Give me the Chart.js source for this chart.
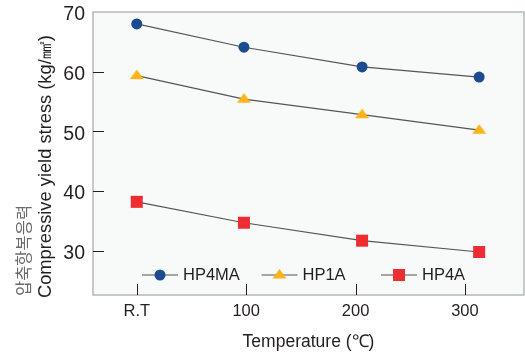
<!DOCTYPE html>
<html>
<head>
<meta charset="utf-8">
<script src="https://cdn.jsdelivr.net/npm/chart.js@4/dist/chart.umd.min.js"></script>
<style>
  html, body { margin: 0; padding: 0; background: #fff; }
  #wrap { width: 525px; height: 354px; }
</style>
</head>
<body>
<div id="wrap"><canvas id="myChart" width="525" height="354"></canvas></div>
<script>
// Data
const tempLabels = ['R.T', '100', '200', '300'];
const tickTemps = [0, 100, 200, 300];
const testTemps = [0, 98, 206, 313];
const hp4ma = [68.0, 64.1, 60.8, 59.1];
const hp1a = [59.35, 55.4, 52.8, 50.2];
const hp4a = [38.2, 34.7, 31.7, 29.8];
const yTicks = [30, 40, 50, 60, 70];
const seriesNames = ['HP4MA', 'HP1A', 'HP4A'];

const textColor = '#231f20';
const lineColor = '#555555';
const font = "'Liberation Sans', Arial, sans-serif";

// flattened triangle marker like the original
function makeTriangle(color) {
  const c = document.createElement('canvas');
  c.width = 15; c.height = 13;
  const g = c.getContext('2d');
  g.fillStyle = color;
  g.beginPath();
  g.moveTo(7.5, 0.5);
  g.lineTo(14.5, 10);
  g.lineTo(0.5, 10);
  g.closePath();
  g.fill();
  return c;
}
const triangle = makeTriangle('#fbb416');

function toPoints(ys) {
  return testTemps.map((x, i) => ({ x: x, y: ys[i] }));
}

const datasets = [
  { label: seriesNames[0], data: toPoints(hp4ma), pointStyle: 'circle', pointRadius: 5.5,
    pointBackgroundColor: '#1c4b8f', pointBorderColor: '#1c4b8f', pointBorderWidth: 0 },
  { label: seriesNames[1], data: toPoints(hp1a), pointStyle: triangle, pointRadius: 7,
    pointBackgroundColor: '#fbb416', pointBorderColor: '#fbb416', pointBorderWidth: 0 },
  { label: seriesNames[2], data: toPoints(hp4a), pointStyle: 'rect', pointRadius: 8.5,
    pointBackgroundColor: '#ee2d33', pointBorderColor: '#ee2d33', pointBorderWidth: 0 }
].map(d => Object.assign(d, { borderColor: lineColor, borderWidth: 1.2, tension: 0, fill: false }));

function drawMarker(ctx, ds, x, y) {
  ctx.fillStyle = ds.pointBackgroundColor;
  if (ds.pointStyle === 'circle') {
    ctx.beginPath();
    ctx.arc(x, y, ds.pointRadius, 0, Math.PI * 2);
    ctx.fill();
  } else if (ds.pointStyle === 'rect') {
    const s = ds.pointRadius * Math.SQRT1_2;
    ctx.fillRect(x - s, y - s, 2 * s, 2 * s);
  } else {
    ctx.drawImage(ds.pointStyle, x - ds.pointStyle.width / 2, y - ds.pointStyle.height / 2);
  }
}

// plot background, frame, inward tick marks, legend and y titles
const framePlugin = {
  id: 'framePlugin',
  beforeDraw(chart) {
    const a = chart.chartArea, ctx = chart.ctx;
    ctx.save();
    ctx.fillStyle = '#f8f9f9';
    ctx.fillRect(a.left, a.top, a.right - a.left, a.bottom - a.top);
    ctx.restore();
  },
  afterDatasetsDraw(chart) {
    const a = chart.chartArea, ctx = chart.ctx;
    const xs = chart.scales.x, ys = chart.scales.y;
    ctx.save();
    ctx.strokeStyle = '#b5b9bc';
    ctx.lineWidth = 1.5;
    ctx.strokeRect(a.left, a.top, a.right - a.left, a.bottom - a.top);

    ctx.strokeStyle = textColor;
    ctx.lineWidth = 1;
    ys.ticks.forEach(t => {
      if (t.value >= ys.max) return;
      const py = Math.round(ys.getPixelForValue(t.value)) + 0.5;
      ctx.beginPath(); ctx.moveTo(a.left, py); ctx.lineTo(a.left + 11, py); ctx.stroke();
    });
    xs.ticks.forEach(t => {
      const px = Math.round(xs.getPixelForValue(t.value)) + 0.5;
      ctx.beginPath(); ctx.moveTo(px, a.bottom); ctx.lineTo(px, a.bottom - 11); ctx.stroke();
    });

    // legend inside the plot
    const ly = 275;
    chart.data.datasets.forEach((ds, i) => {
      const lx = 142 + 119.5 * i;
      ctx.strokeStyle = lineColor;
      ctx.lineWidth = 1.2;
      ctx.beginPath(); ctx.moveTo(lx, ly); ctx.lineTo(lx + 36, ly); ctx.stroke();
      drawMarker(ctx, ds, lx + 18, ly);
      ctx.fillStyle = textColor;
      ctx.font = '16.5px ' + font;
      ctx.textAlign = 'left';
      ctx.textBaseline = 'middle';
      ctx.fillText(ds.label, lx + 41, ly);
    });

    // y axis titles (Korean + English)
    ctx.textAlign = 'left';
    ctx.textBaseline = 'middle';
    ctx.save();
    ctx.translate(23.5, 296);
    ctx.rotate(-Math.PI / 2);
    ctx.fillStyle = '#6a6a6a';
    ctx.font = "16.5px 'Noto Sans CJK KR', sans-serif";
    ctx.fillText('압축항복응력', 0, 0);
    ctx.restore();
    ctx.save();
    ctx.translate(45.5, 298);
    ctx.rotate(-Math.PI / 2);
    ctx.fillStyle = textColor;
    ctx.font = '18.3px ' + font;
    ctx.fillText('Compressive yield stress (kg/㎟)', 0, 0);
    ctx.restore();
    ctx.restore();
  }
};

const ctx = document.getElementById('myChart').getContext('2d');
const myChart = new Chart(ctx, {
  type: 'line',
  data: { datasets },
  options: {
    responsive: false,
    animation: false,
    layout: { autoPadding: false, padding: { top: 12, right: 1, left: 0, bottom: 0 } },
    plugins: { legend: { display: false }, tooltip: { enabled: false } },
    scales: {
      x: {
        type: 'linear',
        min: -40,
        max: 354,
        grid: { display: false, drawTicks: false },
        border: { display: false },
        afterBuildTicks: s => { s.ticks = tickTemps.map(v => ({ value: v })); },
        afterFit: s => { s.height = 59; s.paddingLeft = 0; s.paddingRight = 0; },
        ticks: {
          padding: 7,
          color: textColor,
          font: { family: font, size: 16.5 },
          callback: v => tempLabels[tickTemps.indexOf(v)]
        },
        title: {
          display: true,
          text: 'Temperature (℃)',
          color: textColor,
          font: { family: font, size: 17.5 },
          padding: { top: 0, bottom: 1 }
        }
      },
      y: {
        min: 22.6,
        max: 70,
        grid: { display: false, drawTicks: false },
        border: { display: false },
        afterBuildTicks: s => { s.ticks = yTicks.map(v => ({ value: v })); },
        afterFit: s => { s.width = 93; s.paddingTop = 0; s.paddingBottom = 0; },
        ticks: {
          padding: 8,
          labelOffset: 3,
          color: textColor,
          font: { family: font, size: 19.5 }
        }
      }
    }
  },
  plugins: [framePlugin]
});
</script>
</body>
</html>
